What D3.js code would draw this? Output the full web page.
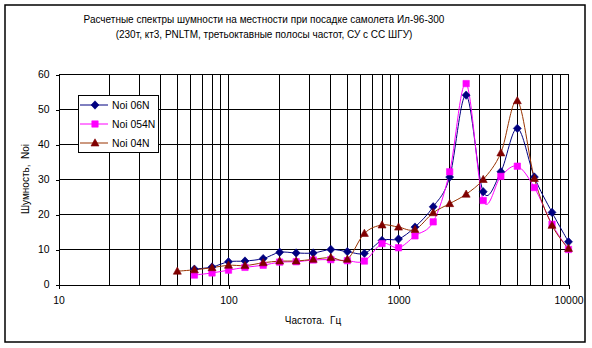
<!DOCTYPE html>
<html>
<head>
<meta charset="utf-8">
<script src="https://cdn.jsdelivr.net/npm/d3@7"></script>
<style>
  html, body { margin: 0; padding: 0; background: #fff; }
  svg text { font-family: Arial, "Liberation Sans", sans-serif; fill: #000; }
</style>
</head>
<body>
<svg id="chart" width="592" height="348"></svg>
<script>
// Third-octave band centre frequencies, Hz
const freqs = [50, 63, 80, 100, 125, 160, 200, 250, 315, 400, 500, 630, 800,
               1000, 1250, 1600, 2000, 2500, 3150, 4000, 5000, 6300, 8000, 10000];

// Noise levels per band (null = no value for that band)
const noi06N  = [null, 4.4, 5.0, 6.5, 6.7, 7.4, 9.2, 9.0, 9.0, 10.0, 9.4, 8.9, 12.6,
                 13.0, 16.4, 22.2, 30.7, 54.1, 26.5, 32.2, 44.6, 30.7, 20.6, 12.2];
const noi054N = [null, 2.7, 3.3, 4.1, 4.9, 5.5, 6.4, 6.5, 7.0, 7.1, 6.8, 6.7, 11.7,
                 10.5, 13.9, 17.9, 32.2, 57.4, 24.0, 30.9, 33.8, 27.7, 17.2, 10.0];
const noi04N  = [3.8, 4.2, 4.8, 5.5, 5.4, 6.2, 6.7, 6.7, 7.2, 7.7, 7.2, 14.6, 17.0,
                 16.4, 15.7, 20.5, 23.1, 25.8, 30.0, 37.6, 52.5, 30.3, 16.9, 10.3];

const seriesNames = ["Noi 06N", "Noi 054N", "Noi 04N"];
const xTickValues = [10, 100, 1000, 10000];
const yTickValues = [0, 10, 20, 30, 40, 50, 60];

const titleLines = [
  "Расчетные спектры шумности на местности при посадке самолета Ил-96-300",
  "(230т, кт3, PNLTM, третьоктавные полосы частот, СУ с СС ШГУ)"
];
const xTitle = "Частота.  Гц";
const yTitle = "Шумность,  Noi";

const series = [
  { name: seriesNames[0], values: noi06N,  line: "#000080", fill: "#000080", shape: "diamond" },
  { name: seriesNames[1], values: noi054N, line: "#FF00FF", fill: "#FF00FF", shape: "square" },
  { name: seriesNames[2], values: noi04N,  line: "#993300", fill: "#800000", shape: "triangle" }
];

const FONT = 10;
const svg = d3.select("#chart");
const W = 592, H = 348;

svg.append("rect").attr("width", W).attr("height", H).attr("fill", "#fff");
// outer chart frame
svg.append("rect")
  .attr("x", 5).attr("y", 5).attr("width", 580).attr("height", 337)
  .attr("fill", "none").attr("stroke", "#000").attr("stroke-width", 1.5);

const x = d3.scaleLog().domain([10, 10000]).range([58.5, 568.5]);
const y = d3.scaleLinear().domain([0, 60]).range([284.5, 74.5]);

// vertical gridlines at 2..9 of every decade plus the decade lines
const gridX = [];
for (let dec = 10; dec < 10000; dec *= 10) {
  for (let m = 2; m <= 10; m++) gridX.push(dec * m);
}
const grid = svg.append("g").attr("shape-rendering", "crispEdges");
grid.selectAll("line.vx").data(gridX).join("line")
  .attr("x1", d => x(d)).attr("x2", d => x(d))
  .attr("y1", y(60)).attr("y2", y(0))
  .attr("stroke", "#000").attr("stroke-width", 1);
grid.selectAll("line.hy").data(yTickValues.filter(v => v > 0)).join("line")
  .attr("x1", x(10)).attr("x2", x(10000))
  .attr("y1", d => y(d)).attr("y2", d => y(d))
  .attr("stroke", "#000").attr("stroke-width", 1);

// axes
const xAxis = svg.append("g")
  .attr("transform", `translate(0,${y(0)})`)
  .call(d3.axisBottom(x).tickValues(xTickValues).tickFormat(d3.format("d")).tickSize(4).tickSizeOuter(0).tickPadding(8));
const yAxis = svg.append("g")
  .attr("transform", `translate(${x(10)},0)`)
  .call(d3.axisLeft(y).tickValues(yTickValues).tickSize(3).tickSizeOuter(0).tickPadding(6));
[xAxis, yAxis].forEach(a => {
  a.attr("shape-rendering", "crispEdges");
  a.select(".domain").attr("stroke", "#000");
  a.selectAll(".tick line").attr("stroke", "#000");
  a.selectAll(".tick text").attr("font-size", FONT + 0.4).attr("font-family", "Arial, 'Liberation Sans', sans-serif").attr("fill", "#000");
});

// titles
svg.append("g").selectAll("text").data(titleLines).join("text")
  .attr("x", 264).attr("y", (d, i) => 23 + i * 15)
  .attr("text-anchor", "middle").attr("font-size", FONT)
  .text(d => d);
svg.append("text")
  .attr("x", 313).attr("y", 324).attr("text-anchor", "middle").attr("font-size", FONT)
  .style("white-space", "pre").text(xTitle);
svg.append("text")
  .attr("transform", "translate(29,179) rotate(-90)")
  .attr("text-anchor", "middle").attr("font-size", FONT)
  .style("white-space", "pre").text(yTitle);

// marker shapes
function markerPath(shape) {
  if (shape === "diamond") return "M0,-4.2L4,0L0,4.2L-4,0Z";
  if (shape === "square") return "M-3.2,-3.2H3.2V3.2H-3.2Z";
  return "M0,-4.2L4,3L-4,3Z";
}

const line = d3.line()
  .defined(d => d.v !== null)
  .x(d => x(d.f)).y(d => y(d.v))
  .curve(d3.curveCatmullRom.alpha(0));

const plot = svg.append("g");
series.forEach(s => {
  const pts = freqs.map((f, i) => ({ f, v: s.values[i] })).filter(d => d.v !== null);
  plot.append("path").datum(pts)
    .attr("d", line).attr("fill", "none")
    .attr("stroke", s.line).attr("stroke-width", 1);
});
series.forEach(s => {
  const pts = freqs.map((f, i) => ({ f, v: s.values[i] })).filter(d => d.v !== null);
  plot.append("g").selectAll("path").data(pts).join("path")
    .attr("transform", d => `translate(${x(d.f)},${y(d.v)})`)
    .attr("d", markerPath(s.shape))
    .attr("fill", s.fill).attr("stroke", s.fill).attr("stroke-width", 0.6);
});

// legend
const lg = svg.append("g");
lg.append("rect").attr("x", 78.5).attr("y", 95.5).attr("width", 80).attr("height", 57)
  .attr("fill", "#fff").attr("stroke", "#000").attr("stroke-width", 1)
  .attr("shape-rendering", "crispEdges");
series.forEach((s, i) => {
  const cy = 105 + i * 19;
  lg.append("line").attr("x1", 80).attr("x2", 108).attr("y1", cy).attr("y2", cy)
    .attr("stroke", s.line).attr("stroke-width", 1);
  lg.append("path").attr("transform", `translate(95,${cy})`)
    .attr("d", markerPath(s.shape)).attr("fill", s.fill).attr("stroke", s.fill).attr("stroke-width", 0.6);
  lg.append("text").attr("x", 112).attr("y", cy + 4).attr("font-size", FONT + 0.4).text(s.name);
});
</script>
</body>
</html>
